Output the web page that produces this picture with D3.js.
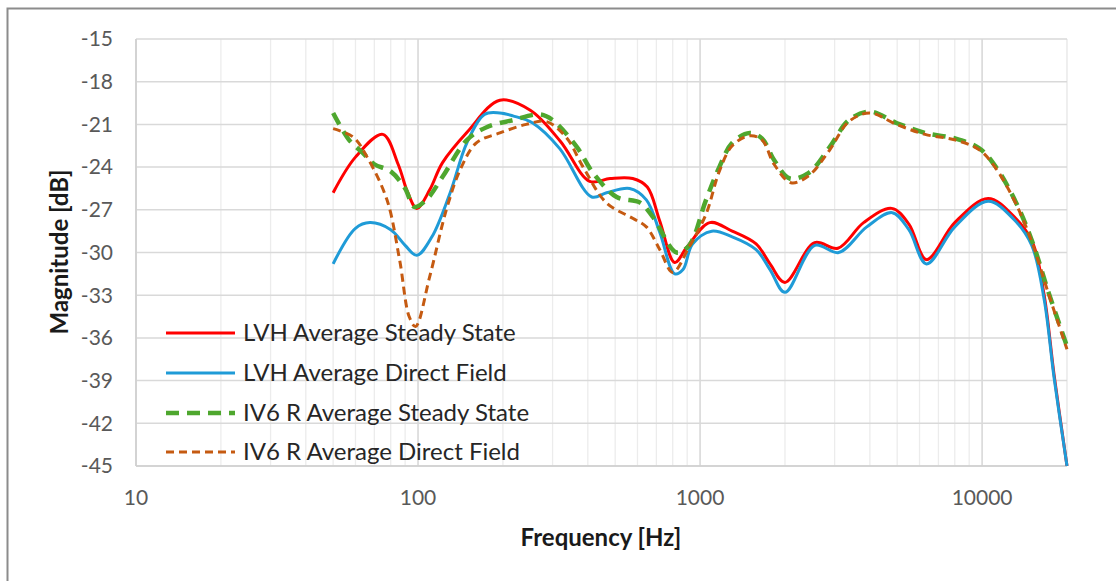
<!DOCTYPE html>
<html><head><meta charset="utf-8">
<script src="https://cdn.jsdelivr.net/npm/d3@7"></script>
<style>
html,body{margin:0;padding:0;background:#fff;}
svg{display:block;font-family:Lato,"Open Sans",sans-serif;}
</style></head>
<body>
<svg id="chart" width="1116" height="581"></svg>
<script>
// ---- data ----
const seriesNames = ["LVH Average Steady State","LVH Average Direct Field","IV6 R Average Steady State","IV6 R Average Direct Field"];
const yTicks = [-15,-18,-21,-24,-27,-30,-33,-36,-39,-42,-45];
const xTicks = [10,100,1000,10000];

const freqRed = [50,60,75,85,92,99,110,122,150,195,250,320,406,480,577,650,720,813,900,1082,1300,1580,1770,2000,2548,3080,3800,4780,5500,6350,8000,10500,13000,15100,16600,18000,20000];
const valRed  = [-25.8,-23.3,-21.7,-23.8,-25.8,-26.9,-25.6,-23.7,-21.5,-19.3,-20.0,-22.2,-25.0,-24.8,-24.8,-25.4,-27.8,-30.7,-29.6,-27.9,-28.5,-29.4,-30.8,-32.1,-29.3,-29.7,-27.9,-26.9,-28.0,-30.5,-27.9,-26.2,-27.5,-29.3,-33.0,-38.6,-45.0];

const freqBlue = [50,60,67.5,80,90,99,112,130,149,172,195,217,255,318,413,466,563,645,720,813,870,940,1100,1300,1580,1770,2000,2550,3100,3900,4800,5500,6350,8000,10500,13000,15000,16600,18000,20000];
const valBlue  = [-30.8,-28.3,-27.9,-28.4,-29.5,-30.2,-28.9,-25.8,-22.3,-20.3,-20.2,-20.4,-20.9,-22.7,-26.1,-25.8,-25.5,-26.3,-28.6,-31.5,-31.2,-29.4,-28.5,-28.9,-29.8,-31.2,-32.8,-29.5,-30.0,-28.2,-27.2,-28.4,-30.8,-28.2,-26.4,-27.7,-29.5,-33.3,-38.8,-45.0];

const freqGreen = [50,57,63.7,70,80,90,97,107,122,149,175,217,270,300,366,417,506,613,680,826,915,1050,1170,1300,1500,1660,1830,2080,2430,2880,3370,4000,4970,6280,8050,9800,11200,13200,15100,17200,20000];
const valGreen  = [-20.2,-22.1,-23.0,-23.8,-24.3,-25.5,-26.8,-26.3,-24.7,-22.1,-21.2,-20.7,-20.3,-20.7,-22.6,-24.4,-26.1,-26.5,-27.5,-30.0,-29.5,-26.3,-24.0,-22.3,-21.6,-22.0,-23.5,-24.8,-24.4,-22.6,-20.7,-20.1,-20.9,-21.6,-22.0,-22.7,-24.0,-26.5,-29.3,-32.8,-36.6];

const freqOrange = [50,59,66,77.6,86,93,98,110,126,141,161,195,242,285,335,385,465,577,645,720,800,915,1050,1170,1300,1500,1660,1830,2100,2430,2880,3370,4000,4970,6280,8050,9800,11200,13200,15100,17200,20000];
const valOrange  = [-21.3,-21.9,-23.3,-26.3,-30.5,-34.5,-35.2,-31.7,-27.0,-24.2,-22.3,-21.6,-21.0,-20.8,-21.9,-24.0,-26.5,-27.6,-28.2,-29.8,-31.4,-29.6,-27.3,-24.3,-22.5,-21.8,-22.1,-23.8,-25.1,-24.6,-22.8,-20.8,-20.2,-21.0,-21.7,-22.1,-22.8,-24.1,-26.6,-29.4,-32.9,-36.8];

// ---- layout ----
const svg = d3.select("#chart");
const L = 136, R = 1067, T = 39, B = 466;
const x = d3.scaleLog().domain([10,20000]).range([L,R]);
const y = d3.scaleLinear().domain([-45,-15]).range([B,T]);

// outer border
svg.append("rect").attr("x",7.5).attr("y",8.5).attr("width",1200).attr("height",700)
  .attr("fill","none").attr("stroke","#8c8c8c").attr("stroke-width",2);

// minor grid
const minor = [];
[10,100,1000,10000].forEach(d=>{for(let k=2;k<=9;k++){const f=d*k; if(f<=20000) minor.push(f);}});
minor.push(20000);
const g = svg.append("g");
g.selectAll(".mn").data(minor).join("line")
  .attr("x1",d=>x(d)).attr("x2",d=>x(d)).attr("y1",T).attr("y2",B)
  .attr("stroke","#ececec").attr("stroke-width",1.3);
g.selectAll(".mj").data(xTicks).join("line")
  .attr("x1",d=>x(d)).attr("x2",d=>x(d)).attr("y1",T).attr("y2",B)
  .attr("stroke","#d6d6d6").attr("stroke-width",1.5);
g.selectAll(".hy").data(yTicks).join("line")
  .attr("x1",L).attr("x2",R).attr("y1",d=>y(d)).attr("y2",d=>y(d))
  .attr("stroke","#d9d9d9").attr("stroke-width",1.5);
// axis lines
g.append("line").attr("x1",L).attr("x2",L).attr("y1",T).attr("y2",B).attr("stroke","#cfcfcf").attr("stroke-width",1.5);
g.append("line").attr("x1",L).attr("x2",R).attr("y1",B).attr("y2",B).attr("stroke","#cfcfcf").attr("stroke-width",1.5);

// y tick labels
svg.append("g").selectAll("text").data(yTicks).join("text")
  .attr("x",113).attr("y",d=>y(d)).attr("dy","0.35em").attr("text-anchor","end")
  .attr("font-size",21).attr("fill","#595959").text(d=>d);
// x tick labels
svg.append("g").selectAll("text").data(xTicks).join("text")
  .attr("x",d=>x(d)).attr("y",498).attr("dy","0.35em").attr("text-anchor","middle")
  .attr("font-size",21).attr("fill","#595959").text(d=>d);

// axis titles
svg.append("text").attr("x",601).attr("y",538).attr("dy","0.35em").attr("text-anchor","middle")
  .attr("font-size",24).attr("font-weight","bold").attr("fill","#1a1a1a").text("Frequency [Hz]");
svg.append("text").attr("transform","translate(60,252) rotate(-90)").attr("dy","0.35em").attr("text-anchor","middle")
  .attr("font-size",24).attr("font-weight","bold").attr("fill","#1a1a1a").text("Magnitude [dB]");

// series
const styles = [
  {color:"#ff0000", w:3, dash:null},
  {color:"#1f9bd7", w:3, dash:null},
  {color:"#4ea72e", w:4.5, dash:"13,8"},
  {color:"#c55a11", w:3, dash:"8,5"}
];
const data = [
  d3.zip(freqRed,valRed), d3.zip(freqBlue,valBlue),
  d3.zip(freqGreen,valGreen), d3.zip(freqOrange,valOrange)
];
const line = d3.line().x(d=>x(d[0])).y(d=>y(d[1])).curve(d3.curveCatmullRom.alpha(0.5));
svg.append("clipPath").attr("id","pc").append("rect").attr("x",L-5).attr("y",T-5).attr("width",R-L+10).attr("height",B-T+5);
const lg = svg.append("g").attr("clip-path","url(#pc)");
data.forEach((d,i)=>{
  lg.append("path").datum(d).attr("d",line).attr("fill","none")
    .attr("stroke",styles[i].color).attr("stroke-width",styles[i].w)
    .attr("stroke-dasharray",styles[i].dash).attr("stroke-linejoin","round");
});

// legend
const legY = [333,373,413,452];
const leg = svg.append("g");
seriesNames.forEach((n,i)=>{
  leg.append("line").attr("x1",166).attr("x2",235).attr("y1",legY[i]).attr("y2",legY[i])
    .attr("stroke",styles[i].color).attr("stroke-width",styles[i].w)
    .attr("stroke-dasharray",styles[i].dash);
  leg.append("text").attr("x",243).attr("y",legY[i]).attr("dy","0.35em")
    .attr("font-size",24).attr("fill","#262626").text(n);
});
</script>
</body></html>
